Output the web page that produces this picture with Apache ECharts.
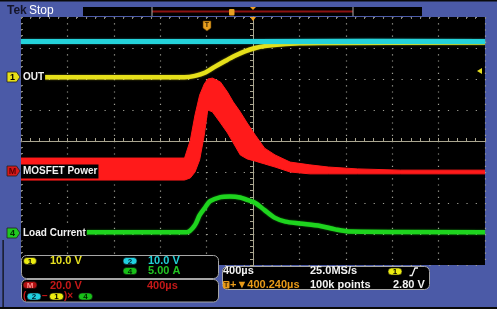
<!DOCTYPE html>
<html><head><meta charset="utf-8">
<script src="https://cdn.jsdelivr.net/npm/echarts@6/dist/echarts.min.js"></script>
<style>html,body{margin:0;padding:0;background:#fff}#c{width:497px;height:312px}</style>
</head><body><div id="c"></div>
<script>
// Time in µs relative to screen centre (400 µs/div); values in screen divisions (centre = 0)
const cyanT   = [-2000, -1000, 0, 1000, 2000];
const cyanV   = [3.21, 3.21, 3.21, 3.22, 3.21];
const yellowT = [-2000, -590, -500, -410, -330, -240, -160, -70, 20, 100, 230, 400, 580, 2000];
const yellowV = [2.06, 2.06, 2.10, 2.21, 2.39, 2.58, 2.74, 2.89, 3.00, 3.06, 3.11, 3.15, 3.16, 3.18];
const greenT  = [-2000, -570, -500, -460, -410, -370, -280, -200, -110, -50, 20, 100, 190, 280, 400, 580, 710, 840, 2000];
const greenV  = [-2.94, -2.94, -2.71, -2.39, -2.13, -1.94, -1.81, -1.79, -1.82, -1.90, -2.00, -2.23, -2.48, -2.60, -2.66, -2.74, -2.85, -2.92, -2.94];
// MOSFET power: noisy band, upper and lower envelope
const redT    = [-2000, -590, -540, -500, -460, -420, -390, -350, -280, -220, -170, -110, -50, 20, 100, 190, 320, 490, 650, 900, 1270, 2000];
const redHigh = [-0.55, -0.55, 0.03, 0.84, 1.48, 1.84, 2.00, 2.03, 1.90, 1.58, 1.26, 0.94, 0.58, 0.19, -0.23, -0.45, -0.68, -0.77, -0.84, -0.90, -0.94, -0.94];
const redLow  = [-1.26, -1.26, -1.19, -1.00, -0.61, 0.19, 1.00, 0.94, 0.58, 0.26, -0.06, -0.45, -0.58, -0.65, -0.74, -0.84, -1.00, -1.06, -1.06, -1.06, -1.06, -1.06];

const traceLabels = ['OUT', 'MOSFET Power', 'Load Current'];
const scaleTexts = ['10.0 V', '10.0 V', '5.00 A', '20.0 V', '400µs'];
const statusTexts = ['400µs', '25.0MS/s', '+▼400.240µs', '100k points', '2.80 V'];

const zip = (a, b) => a.map((v, i) => [v, b[i]]);
const FONT = '"Liberation Sans", Arial, sans-serif';
const G = [];
const Z = 100;
function txt(t, x, y, fill, size, extra) {
  G.push({type: 'text', z: Z + 2, style: Object.assign({text: t, x: x, y: y, fill: fill,
    font: 'bold ' + size + 'px ' + FONT, verticalAlign: 'middle', align: 'left'}, extra || {})});
}
function pill(cx, cy, w, h, fill, t, tc) {
  G.push({type: 'rect', z: Z + 1, shape: {x: cx - w / 2, y: cy - h / 2, width: w, height: h, r: h / 2},
    style: {fill: fill, stroke: '#111', lineWidth: 0.6}});
  G.push({type: 'text', z: Z + 2, style: {text: t, x: cx, y: cy + 0.5, align: 'center', verticalAlign: 'middle',
    fill: tc, font: 'bold 8px ' + FONT}});
}
function marker(y, fill, t, tc) {
  G.push({type: 'polygon', z: Z + 1, shape: {points: [[7, y - 5], [16.5, y - 5], [20, y], [16.5, y + 5], [7, y + 5]]},
    style: {fill: fill, stroke: '#222', lineWidth: 0.8}});
  G.push({type: 'text', z: Z + 2, style: {text: t, x: 12.5, y: y + 0.5, align: 'center', verticalAlign: 'middle',
    fill: tc, font: 'bold 9px ' + FONT}});
}

// frame
G.push({type: 'rect', z: Z, shape: {x: 0, y: 0, width: 497, height: 1.5}, style: {fill: '#0a0a0a'}});
G.push({type: 'rect', z: Z, shape: {x: 0, y: 307, width: 497, height: 2}, style: {fill: '#0a0a0a'}});
G.push({type: 'rect', z: Z, shape: {x: 0, y: 309, width: 497, height: 3}, style: {fill: '#ffffff'}});
G.push({type: 'rect', z: Z, shape: {x: 2.5, y: 240, width: 1.2, height: 68}, style: {fill: '#0a0a0a'}});
// Tek Stop
G.push({type: 'text', z: Z, style: {text: 'Tek', x: 7, y: 11, fill: '#15152a', font: 'bold 12px ' + FONT, verticalAlign: 'middle'}});
G.push({type: 'text', z: Z, style: {text: 'Stop', x: 29, y: 11, fill: '#ffffff', font: '12px ' + FONT, verticalAlign: 'middle'}});
// record bar
G.push({type: 'rect', z: Z, shape: {x: 83, y: 7, width: 339, height: 9}, style: {fill: '#000'}});
G.push({type: 'rect', z: Z, shape: {x: 152, y: 10.5, width: 201, height: 2}, style: {fill: '#8c1212'}});
G.push({type: 'line', z: Z, shape: {x1: 152, y1: 7, x2: 152, y2: 16}, style: {stroke: '#b0b0b0', lineWidth: 1}});
G.push({type: 'line', z: Z, shape: {x1: 353, y1: 7, x2: 353, y2: 16}, style: {stroke: '#b0b0b0', lineWidth: 1}});
G.push({type: 'rect', z: Z, shape: {x: 229, y: 9, width: 5.5, height: 6.5, r: 1}, style: {fill: '#e8a020'}});
G.push({type: 'polygon', z: Z, shape: {points: [[250, 7], [256, 7], [253, 10]]}, style: {fill: '#f0a020'}});
// trigger markers in plot
G.push({type: 'polygon', z: Z, shape: {points: [[203, 21], [211, 21], [211, 28], [207, 31], [203, 28]]}, style: {fill: '#e8a020', stroke: '#5a3a00', lineWidth: 0.6}});
G.push({type: 'text', z: Z + 1, style: {text: 'T', x: 207, y: 25.5, align: 'center', verticalAlign: 'middle', fill: '#3a2400', font: 'bold 7px ' + FONT}});
G.push({type: 'polygon', z: Z, shape: {points: [[250, 17], [256, 17], [253, 21]]}, style: {fill: '#f0a020'}});
G.push({type: 'polygon', z: Z, shape: {points: [[482, 68], [482, 74], [477, 71]]}, style: {fill: '#e8e020'}});

// trace labels
marker(77, '#e8e018', '1', '#000');
txt(traceLabels[0], 21, 77.5, '#f2f2f2', 10, {backgroundColor: '#000', padding: [2, 1, 2, 2]});
marker(171, '#d81818', 'M', '#5a0000');
txt(traceLabels[1], 21, 171.5, '#f2f2f2', 10, {backgroundColor: '#000', padding: [2, 1, 2, 2]});
marker(233, '#20c820', '4', '#002a00');
txt(traceLabels[2], 21, 233.5, '#f2f2f2', 10, {backgroundColor: '#000', padding: [2, 1, 2, 2]});

// panels
G.push({type: 'rect', z: Z, shape: {x: 21.5, y: 255.5, width: 197, height: 23, r: 5}, style: {fill: '#000', stroke: '#a6a6a6', lineWidth: 1}});
G.push({type: 'rect', z: Z, shape: {x: 21.5, y: 279.5, width: 197, height: 22.5, r: 5}, style: {fill: '#000', stroke: '#a6a6a6', lineWidth: 1}});
G.push({type: 'rect', z: Z, shape: {x: 222.5, y: 266.5, width: 207, height: 23, r: 5}, style: {fill: '#000', stroke: '#a6a6a6', lineWidth: 1}});

pill(30, 261, 13, 7, '#ecec10', '1', '#000');
txt(scaleTexts[0], 50, 261, '#e6e020', 11);
pill(130, 261, 14, 7, '#20d0e0', '2', '#002030');
txt(scaleTexts[1], 148, 261, '#22d0d8', 11);
pill(130, 271, 14, 7, '#18c018', '4', '#002000');
txt(scaleTexts[2], 148, 271, '#22c422', 11);
pill(30, 285, 14, 7, '#b01010', 'M', '#ff8a8a');
txt(scaleTexts[3], 50, 285.5, '#c41818', 11);
txt(scaleTexts[4], 147, 285.5, '#c41818', 11);
txt('(', 23, 296.5, '#c41818', 10);
pill(34, 296.5, 14, 7, '#20d0e0', '2', '#002030');
txt('−', 42, 296.5, '#c41818', 10);
pill(56.5, 296.5, 14, 7, '#ecec10', '1', '#000');
txt(')×', 64, 296.5, '#c41818', 10);
pill(85.5, 296.5, 14, 7, '#18c018', '4', '#002000');

txt(statusTexts[0], 223, 271, '#f2f2f2', 11);
txt(statusTexts[1], 310, 271, '#f2f2f2', 11);
pill(395, 271.5, 14, 7, '#ecec10', '1', '#000');
G.push({type: 'polyline', z: Z + 1, shape: {points: [[409.5, 275.5], [412, 275.5], [415, 268], [418, 268]]}, style: {stroke: '#f2f2f2', lineWidth: 1.3, fill: null}});
G.push({type: 'rect', z: Z + 1, shape: {x: 223, y: 281, width: 6.5, height: 7.5, r: 1}, style: {fill: '#e89a18'}});
G.push({type: 'text', z: Z + 2, style: {text: 'T', x: 226.2, y: 285, align: 'center', verticalAlign: 'middle', fill: '#3a2400', font: 'bold 7px ' + FONT}});
txt(statusTexts[2], 230, 284.5, '#e89a18', 11);
txt(statusTexts[3], 310, 284.5, '#f2f2f2', 11);
txt(statusTexts[4], 393, 284.5, '#f2f2f2', 11);

const gridCol = '#a0a096';
const ctrCol = '#aaa690';
const hiddenAxis = {axisLabel: {show: false}, splitLine: {show: false}};
const option = {
  animation: false,
  backgroundColor: '#4b5aa7',
  grid: {left: 21, top: 17, width: 464, height: 248, show: true, backgroundColor: '#000', borderWidth: 0},
  xAxis: [
    {type: 'value', min: -2000, max: 2000, interval: 400, position: 'bottom',
     axisLine: {show: true, onZero: true, lineStyle: {color: ctrCol, width: 1}},
     axisTick: {show: true, inside: true, length: 3, lineStyle: {color: ctrCol}},
     minorTick: {show: true, splitNumber: 5, length: 3, lineStyle: {color: ctrCol}},
     axisLabel: {show: false},
     splitLine: {show: true, lineStyle: {color: gridCol, width: 1.2, type: [1.2, 5]}}},
    Object.assign({type: 'value', min: -2000, max: 2000, interval: 400, position: 'top',
     axisLine: {show: false, onZero: false},
     axisTick: {show: true, inside: true, length: 2, lineStyle: {color: '#8a8a80'}},
     minorTick: {show: true, splitNumber: 5, length: 2, lineStyle: {color: '#8a8a80'}}}, hiddenAxis)
  ],
  yAxis: [
    {type: 'value', min: -4, max: 4, interval: 1, position: 'right',
     axisLine: {show: true, onZero: true, lineStyle: {color: ctrCol, width: 1}},
     axisTick: {show: true, inside: true, length: 3, lineStyle: {color: ctrCol}},
     minorTick: {show: true, splitNumber: 5, length: 3, lineStyle: {color: ctrCol}},
     axisLabel: {show: false},
     splitLine: {show: true, lineStyle: {color: gridCol, width: 1.2, type: [1.2, 8.08]}}},
    Object.assign({type: 'value', min: -4, max: 4, interval: 1, position: 'left',
     axisLine: {show: false, onZero: false},
     axisTick: {show: true, inside: true, length: 2, lineStyle: {color: '#8a8a80'}},
     minorTick: {show: true, splitNumber: 5, length: 2, lineStyle: {color: '#8a8a80'}}}, hiddenAxis)
  ],
  series: [
    {type: 'custom', name: 'MOSFET Power', coordinateSystem: 'cartesian2d', xAxisIndex: 0, yAxisIndex: 0,
     data: [[0, 0]], silent: true, z: 3, clip: true,
     renderItem: function (params, api) {
       const pts = [];
       for (let i = 0; i < redT.length; i++) pts.push(api.coord([redT[i], redHigh[i]]));
       for (let i = redT.length - 1; i >= 0; i--) pts.push(api.coord([redT[i], redLow[i]]));
       return {type: 'polygon', shape: {points: pts}, style: {fill: '#ff1a1a', stroke: '#ff1a1a', lineWidth: 1}};
     }},
    {type: 'line', name: 'Load Current', data: zip(greenT, greenV), xAxisIndex: 0, yAxisIndex: 0,
     showSymbol: false, smooth: 0.3, silent: true, z: 4,
     lineStyle: {color: '#1ed41e', width: 4.5, shadowColor: 'rgba(30,212,30,0.6)', shadowBlur: 2}},
    {type: 'line', name: 'OUT', data: zip(yellowT, yellowV), xAxisIndex: 0, yAxisIndex: 0,
     showSymbol: false, smooth: 0.3, silent: true, z: 5,
     lineStyle: {color: '#e6e01a', width: 4.5, shadowColor: 'rgba(230,224,26,0.6)', shadowBlur: 2}},
    {type: 'line', name: 'CH2', data: zip(cyanT, cyanV), xAxisIndex: 0, yAxisIndex: 0,
     showSymbol: false, silent: true, z: 6,
     lineStyle: {color: '#24d2da', width: 5, shadowColor: 'rgba(36,210,218,0.6)', shadowBlur: 2}}
  ],
  graphic: {elements: G}
};
const chart = echarts.init(document.getElementById('c'), null, {renderer: 'canvas'});
chart.setOption(option);
</script></body></html>
